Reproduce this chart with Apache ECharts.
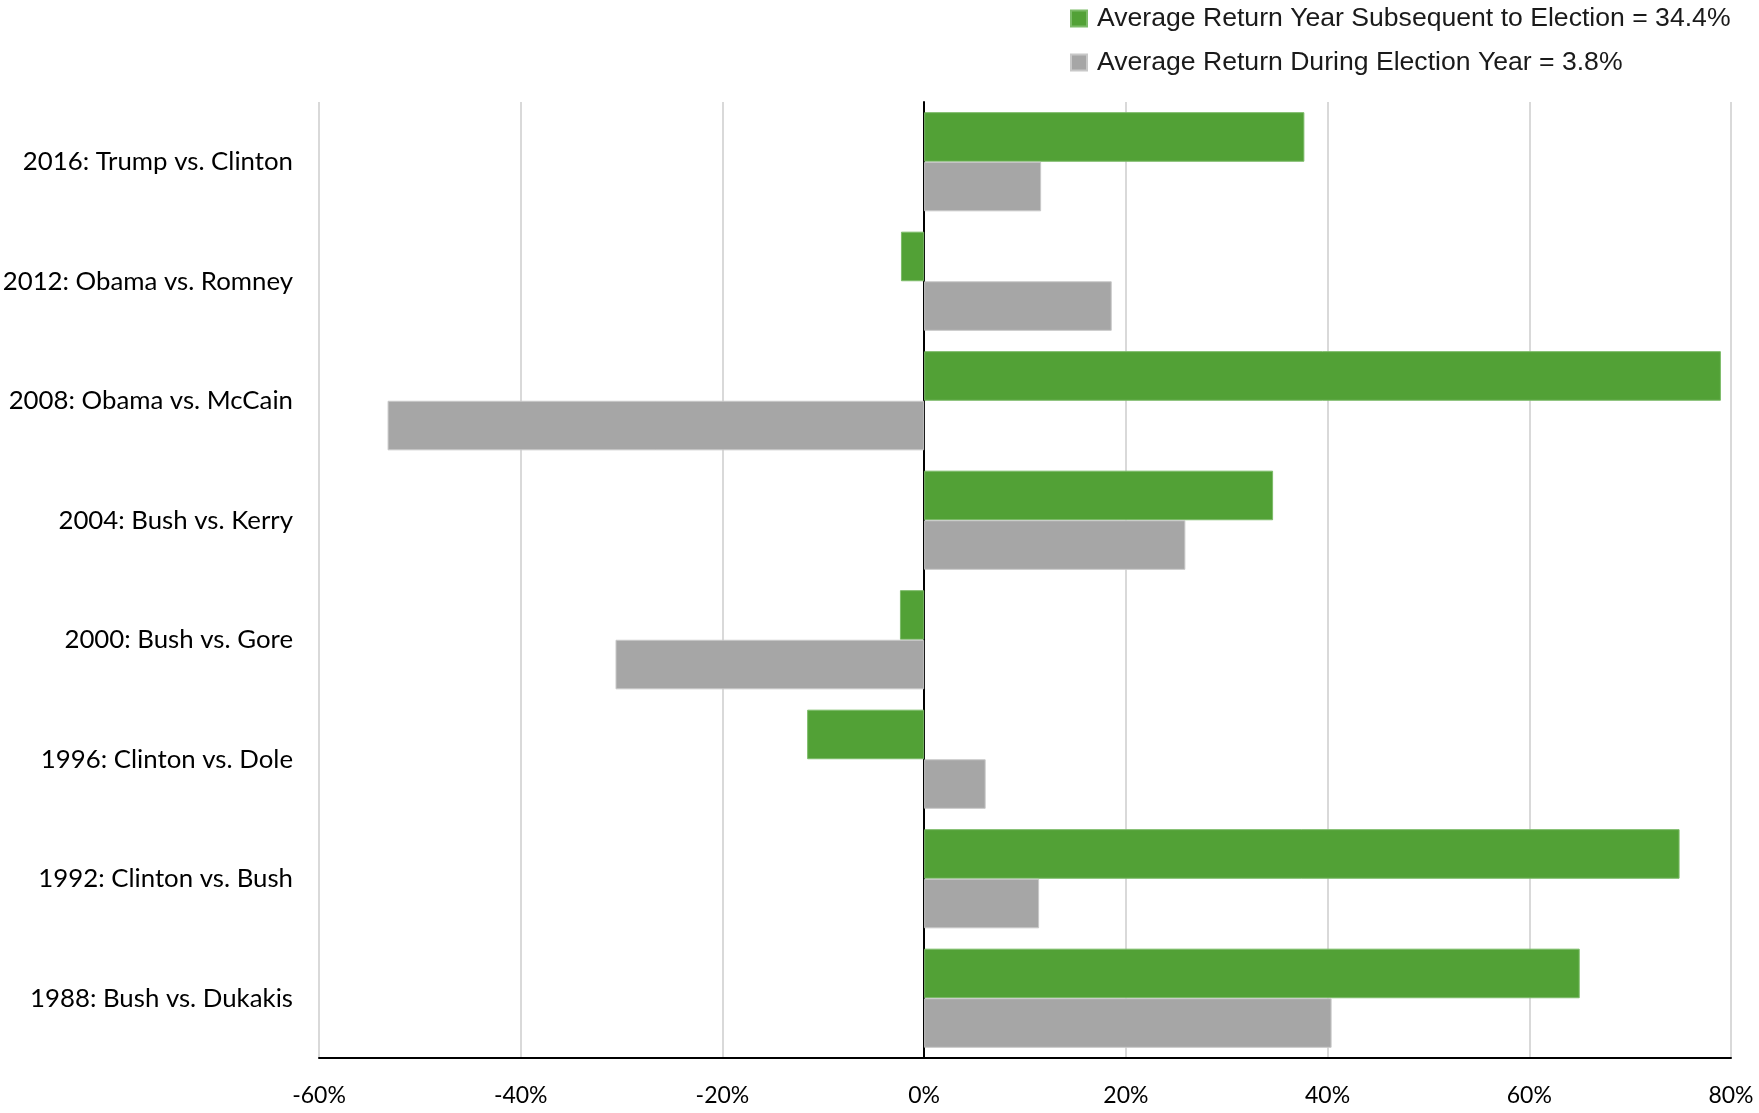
<!DOCTYPE html>
<html>
<head>
<meta charset="utf-8">
<script src="https://cdn.jsdelivr.net/npm/echarts@6/dist/echarts.min.js"></script>
<style>
  html, body { margin: 0; padding: 0; background: #fff; }
  #main { width: 1759px; height: 1113px; }
</style>
</head>
<body>
<div id="main"></div>
<script>
var elections = ['2016: Trump vs. Clinton', '2012: Obama vs. Romney', '2008: Obama vs. McCain',
  '2004: Bush vs. Kerry', '2000: Bush vs. Gore', '1996: Clinton vs. Dole',
  '1992: Clinton vs. Bush', '1988: Bush vs. Dukakis'];
var subsequentYear = [37.7, -2.3, 79.0, 34.6, -2.4, -11.6, 74.9, 65.0];
var electionYear = [11.6, 18.6, -53.2, 25.9, -30.6, 6.1, 11.4, 40.4];
var seriesNames = ['Average Return Year Subsequent to Election = 34.4%',
  'Average Return During Election Year = 3.8%'];

var chart = echarts.init(document.getElementById('main'));

var option = {
  backgroundColor: '#fff',
  animation: false,
  legend: {
    orient: 'vertical',
    left: 1065,
    top: 0,
    itemWidth: 16,
    itemHeight: 16,
    itemGap: 17,
    icon: 'rect',
    textStyle: {
      fontFamily: 'Liberation Sans, Arial, sans-serif',
      fontSize: 26.6,
      color: '#1a1a1a',
      padding: [0, 0, 0, 5]
    },
    data: seriesNames
  },
  grid: {
    left: 319,
    right: 28,
    top: 102,
    bottom: 55,
    outerBoundsMode: 'none'
  },
  xAxis: {
    type: 'value',
    min: -60,
    max: 80,
    interval: 20,
    axisLine: { show: true, onZero: false, lineStyle: { color: '#000', width: 2 } },
    axisTick: { show: false },
    splitLine: { show: true, lineStyle: { color: '#d9d9d9', width: 2 } },
    axisLabel: {
      formatter: '{value}%',
      margin: 26,
      fontFamily: 'Lato, sans-serif',
      fontSize: 23,
      color: '#000'
    }
  },
  yAxis: {
    type: 'category',
    inverse: true,
    data: elections,
    axisLine: { show: true, lineStyle: { color: '#000', width: 2 } },
    axisTick: { show: false },
    axisLabel: {
      margin: 26,
      fontFamily: 'Lato, sans-serif',
      fontSize: 25.8,
      color: '#000'
    }
  },
  series: [{
    name: seriesNames[0],
    type: 'bar',
    data: subsequentYear,
    barGap: '0%',
    barCategoryGap: '17%',
    itemStyle: { color: '#52a136', borderColor: '#7cbb68', borderWidth: 1 }
  }, {
    name: seriesNames[1],
    type: 'bar',
    data: electionYear,
    barGap: '0%',
    barCategoryGap: '17%',
    itemStyle: { color: '#a6a6a6', borderColor: '#c8c8c8', borderWidth: 1 }
  }]
};

chart.setOption(option);
</script>
</body>
</html>
